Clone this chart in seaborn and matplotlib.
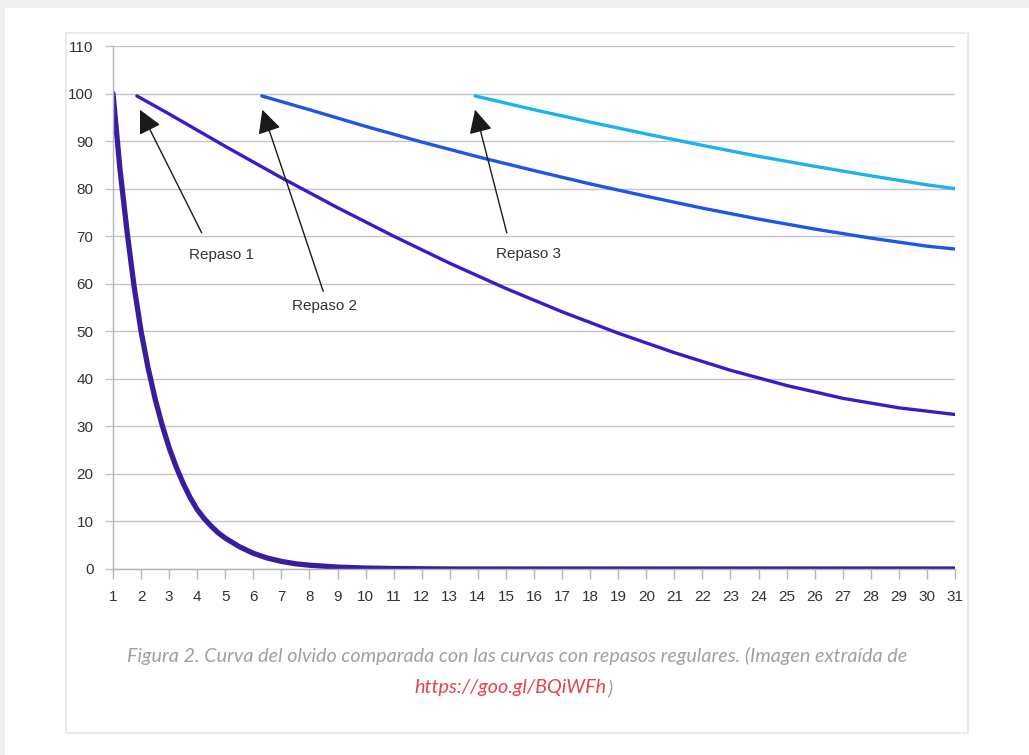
import numpy as np
import pandas as pd
import matplotlib.pyplot as plt
import matplotlib.patches as mpatches
import seaborn as sns

# Curva del olvido (sin repaso)
olvido_x = [1, 1.25, 1.5, 1.75, 2, 2.25, 2.5, 2.75, 3, 3.25, 3.5, 3.75, 4, 4.25, 4.5, 4.75, 5, 5.5, 6, 6.5,
            7, 7.5, 8, 9, 10, 11, 12, 13, 16, 20, 25, 31]
olvido_y = [100, 84, 71, 59.5, 50, 42.3, 35.8, 30.3, 25.5, 21.5, 18, 15, 12.5, 10.6, 9, 7.6, 6.5, 4.7, 3.3, 2.3,
            1.6, 1.1, 0.8, 0.4, 0.2, 0.1, 0.05, 0, 0, 0, 0, 0]

# Repaso 1
rep1_x = [1.85, 3, 5, 7, 9, 11, 13, 15, 17, 19, 21, 23, 25, 27, 29, 31]
rep1_y = [99.5, 95.7, 88.9, 82.3, 76.0, 70.0, 64.3, 59.0, 54.1, 49.6, 45.5, 41.8, 38.6, 35.9, 33.9, 32.5]

# Repaso 2
rep2_x = [6.3, 8, 10, 12, 14, 16, 18, 20, 22, 24, 26, 28, 30, 31]
rep2_y = [99.5, 96.6, 93.1, 89.8, 86.7, 83.8, 81.0, 78.4, 75.9, 73.6, 71.5, 69.6, 67.9, 67.3]

# Repaso 3
rep3_x = [13.9, 16, 18, 20, 22, 24, 26, 28, 30, 31]
rep3_y = [99.5, 96.6, 94.0, 91.5, 89.1, 86.8, 84.7, 82.7, 80.8, 80.0]

x_ticks = list(range(1, 32))
y_ticks = list(range(0, 111, 10))

sns.set_theme(style="white")
plt.rcParams['font.family'] = ['Liberation Sans', 'DejaVu Sans']

fig = plt.figure(figsize=(10.29, 7.55), dpi=100, facecolor="white")

# fondo de la pagina y tarjeta
fig.patches.append(mpatches.Rectangle((0, 1 - 8 / 755), 1, 8 / 755, transform=fig.transFigure,
                                      facecolor="#efefef", edgecolor="none", zorder=-10))
fig.patches.append(mpatches.Rectangle((0, 0), 5 / 1029, 1, transform=fig.transFigure,
                                      facecolor="#efefef", edgecolor="none", zorder=-10))
fig.patches.append(mpatches.Rectangle((66 / 1029, 1 - 733 / 755), (968 - 66) / 1029, (733 - 33) / 755,
                                      transform=fig.transFigure, facecolor="white",
                                      edgecolor="#e6e6e6", lw=1.2, zorder=-10))

ax = fig.add_axes([113 / 1029, 1 - 569 / 755, (955 - 113) / 1029, (569 - 46) / 755])
ax.set_zorder(1)
ax.set_facecolor("none")

sns.lineplot(x=olvido_x, y=olvido_y, ax=ax, color="#3a1d9e", lw=3.8, sort=False)
sns.lineplot(x=rep1_x, y=rep1_y, ax=ax, color="#3a1bcc", lw=2.4, sort=False)
sns.lineplot(x=rep2_x, y=rep2_y, ax=ax, color="#1d57e6", lw=2.4, sort=False)
sns.lineplot(x=rep3_x, y=rep3_y, ax=ax, color="#1cb2ee", lw=2.4, sort=False)

ax.set_xlim(1, 31)
ax.set_ylim(0, 110)
ax.set_xticks(x_ticks)
ax.set_yticks(y_ticks)
ax.grid(axis="y", color="#c4c4c4", lw=1)
ax.set_axisbelow(True)
for s in ["top", "right"]:
    ax.spines[s].set_visible(False)
for s in ["left", "bottom"]:
    ax.spines[s].set_color("#b4b4b4")
    ax.spines[s].set_linewidth(1)
ax.tick_params(axis="x", length=7, width=1, color="#b4b4b4", pad=8, labelsize=11, labelcolor="#333333")
ax.tick_params(axis="y", length=6, width=1, color="#c4c4c4", pad=8, labelsize=11, labelcolor="#333333")
ax.tick_params(bottom=True, left=True)

# flechas y etiquetas de repaso
arrows = [((1.96, 96.6), (4.16, 70.7)), ((6.32, 96.6), (8.49, 58.4)), ((13.90, 96.6), (15.03, 70.7))]
for tip, tail in arrows:
    ax.annotate("", xy=tip, xytext=tail,
                arrowprops=dict(arrowstyle="-|>,head_length=0.9,head_width=0.45", color="#1a1a1a",
                                lw=1, shrinkA=0, shrinkB=0, mutation_scale=16))
ax.text(4.87, 66.1, "Repaso 1", ha="center", va="center", fontsize=11, color="#333333")
ax.text(8.55, 55.4, "Repaso 2", ha="center", va="center", fontsize=11, color="#333333")
ax.text(15.8, 66.3, "Repaso 3", ha="center", va="center", fontsize=11, color="#333333")

# pie de figura
fig.text(517 / 1029, 1 - 656 / 755,
         "Figura 2. Curva del olvido comparada con las curvas con repasos regulares. (Imagen extraída de",
         ha="center", va="center", fontsize=14.2, style="italic", color="#a0a0a0", family="Lato")
fig.text(607 / 1029, 1 - 688 / 755, "https://goo.gl/BQiWFh", ha="right", va="center",
         fontsize=14.2, style="italic", color="#e5434f", family="Lato")
fig.text(607 / 1029, 1 - 688 / 755, ")", ha="left", va="center",
         fontsize=14.2, style="italic", color="#a0a0a0", family="Lato")

fig.savefig("out.png", dpi=100, facecolor="white")
